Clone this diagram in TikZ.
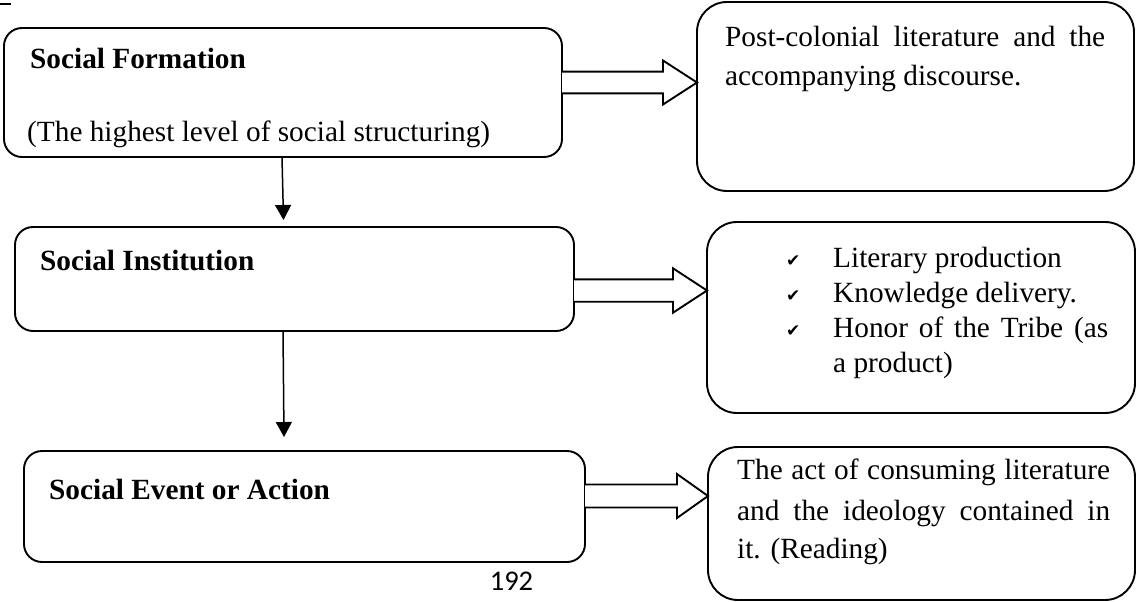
\documentclass[tikz,border=0pt]{standalone}
\usepackage{fontspec}
\setmainfont{Liberation Serif}
\newfontfamily\chkfont{DejaVu Sans}
\newfontfamily\pagefont{Carlito}
\usetikzlibrary{arrows.meta,calc}
\newcommand\blockarr[5]{%
  \draw[barrow] ($(#1)+(0,-#4)$) -- ($(#2)+(-#3,-#4)$) -- ($(#2)+(-#3,-#5)$) -- (#2)
    -- ($(#2)+(-#3,#5)$) -- ($(#2)+(-#3,#4)$) -- ($(#1)+(0,#4)$);}
\tikzset{
  lbox/.style={draw, line width=1.9pt, rounded corners=18pt, inner sep=0pt, outer sep=0pt, anchor=north west},
  rbox/.style={lbox, rounded corners=30pt},
  txt/.style={anchor=base west, inner sep=0pt, font=\fontsize{29.3}{36}\selectfont},
  head/.style={anchor=base west, inner sep=0pt, font=\fontsize{29.3}{36}\selectfont\bfseries},
  chk/.style={anchor=base west, inner sep=0pt, font=\chkfont\fontsize{17}{20}\selectfont},
  varrow/.style={line width=1.5pt, -{Triangle[length=15pt,width=16pt]}},
  barrow/.style={line width=1.9pt, fill=white, line join=miter},
}
\begin{document}
\begin{tikzpicture}[x=1pt,y=-1pt]
\useasboundingbox (0,0) rectangle (1138,602);
\draw[line width=1.6pt] (0,4) coordinate (m1) -- (11,4) coordinate (m2);
% boxes
\node[lbox, minimum width=558pt, minimum height=129pt] (sf) at (4,28) {};
\node[rbox, minimum width=437pt, minimum height=189pt] (pc) at (697,2) {};
\node[lbox, minimum width=559pt, minimum height=104pt] (si) at (15,227) {};
\node[rbox, minimum width=428pt, minimum height=191pt] (lit) at (707,222) {};
\node[lbox, minimum width=561pt, minimum height=111pt] (se) at (24,451) {};
\node[rbox, minimum width=427pt, minimum height=153pt] (act) at (708,447) {};
% texts
\node[head] (t1) at (30,69) {Social Formation};
\node[txt] (t2) at (27,141) {(The highest level of social structuring)};
\node[txt] (t3) at (725,47) {\makebox[380pt][s]{Post-colonial literature and the}};
\node[txt] (t4) at (725,85) {accompanying discourse.};
\node[head] (t5) at (40,270) {Social Institution};
\node[chk] (c1) at (786,266) {✔};
\node[chk] (c2) at (786,301) {✔};
\node[chk] (c3) at (786,336) {✔};
\node[txt] (l1) at (833,267) {Literary production};
\node[txt] (l2) at (833,302) {Knowledge delivery.};
\node[txt] (l3) at (833,337) {\makebox[275pt][s]{Honor of the Tribe (as}};
\node[txt] (l4) at (833,372) {a product)};
\node[head] (t6) at (49,499) {Social Event or Action};
\node[txt] (r1) at (737,479) {\makebox[373pt][s]{The act of consuming literature}};
\node[txt] (r2) at (737,520) {\makebox[373pt][s]{and the ideology contained in}};
\node[txt] (r3) at (737,558) {it. (Reading)};
\node[anchor=base, inner sep=0pt, font=\pagefont\fontsize{28.5}{30}\selectfont] (pg) at (511.5,590) {192};
% vertical arrows
\coordinate (v1e) at (283.5,220);
\coordinate (v2e) at (284,437);
\draw[varrow] ($(sf.south west)+(278,0)$) -- (v1e);
\draw[varrow] ($(si.south west)+(268,0)$) -- (v2e);
% block arrows
\coordinate (a1s) at ($(sf.north east)+(0,54.5)$);
\coordinate (a1e) at ($(pc.north west)+(0,80.5)$);
\coordinate (a2s) at ($(si.north east)+(0,63.5)$);
\coordinate (a2e) at ($(lit.north west)+(0,68.5)$);
\coordinate (a3s) at ($(se.north east)+(0,45)$);
\coordinate (a3e) at ($(act.north west)+(0,49)$);
\blockarr{a1s}{a1e}{34}{10.8}{22}
\blockarr{a2s}{a2e}{34}{11.2}{22.2}
\blockarr{a3s}{a3e}{31}{11.5}{22}
\end{tikzpicture}
\end{document}
